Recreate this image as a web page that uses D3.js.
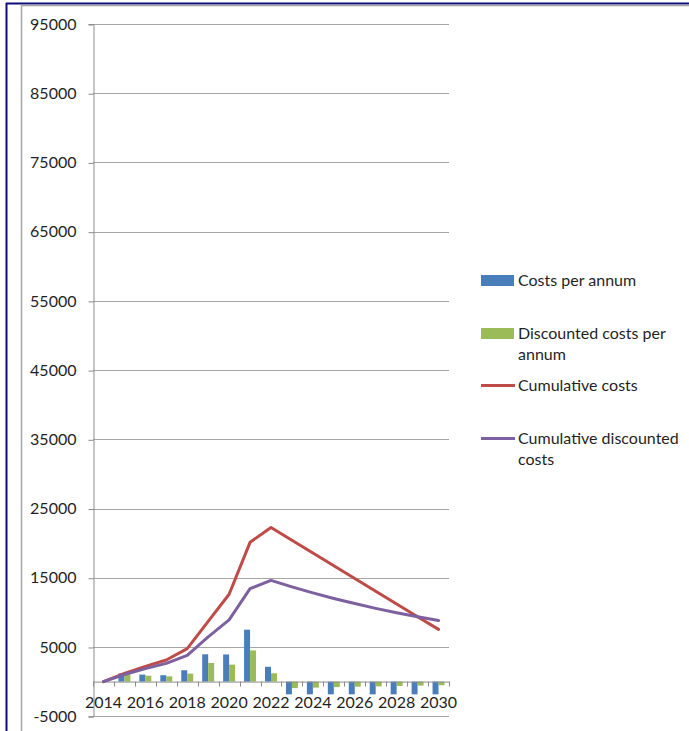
<!DOCTYPE html>
<html>
<head>
<meta charset="utf-8">
<script src="https://cdn.jsdelivr.net/npm/d3@7"></script>
<style>
  html, body { margin: 0; padding: 0; background: #fff; }
  svg { display: block; }
  text { font-family: Lato, "Open Sans", "Liberation Sans", sans-serif; fill: #1f1f1f; }
</style>
</head>
<body>
<svg id="chart" width="689" height="731"></svg>
<script>
// Years on the category axis
const years = [2014, 2015, 2016, 2017, 2018, 2019, 2020, 2021, 2022,
               2023, 2024, 2025, 2026, 2027, 2028, 2029, 2030];
// Year labels shown under the axis (every second year)
const yearLabels = [2014, 2016, 2018, 2020, 2022, 2024, 2026, 2028, 2030];
// Value axis ticks
const valueTicks = [-5000, 5000, 15000, 25000, 35000, 45000, 55000, 65000, 75000, 85000, 95000];

// Annual costs (bars)
const costsPerAnnum = [0, 1190, 1010, 920, 1640, 3940, 3920, 7500, 2140,
                       -1840, -1840, -1840, -1840, -1840, -1840, -1840, -1840];
const discountedCostsPerAnnum = [0, 1020, 850, 760, 1150, 2690, 2450, 4500, 1200,
                                 -940, -870, -800, -740, -690, -630, -580, -530];
// Running totals (lines)
const cumulativeCosts = [0, 1190, 2200, 3120, 4760, 8700, 12620, 20120, 22260,
                         20420, 18580, 16740, 14900, 13060, 11220, 9380, 7540];
const cumulativeDiscountedCosts = [0, 1020, 1870, 2630, 3780, 6470, 8920, 13420, 14620,
                                   13680, 12810, 12010, 11270, 10580, 9950, 9370, 8840];

const seriesNames = ["Costs per annum", "Discounted costs per annum",
                     "Cumulative costs", "Cumulative discounted costs"];
const colors = { blue: "#4A7EBB", green: "#9BBB59", red: "#BE4B48", purple: "#7D60A0" };
const FONT = "Lato, 'Open Sans', 'Liberation Sans', sans-serif";
const FONT_SIZE = 16;

const svg = d3.select("#chart");

// Outer frame
svg.append("rect").attr("width", 689).attr("height", 731).attr("fill", "#fff");
svg.append("line").attr("x1", 6).attr("x2", 689).attr("y1", 3.5).attr("y2", 3.5)
   .attr("stroke", "#0c0c7a").attr("stroke-width", 2);
svg.append("line").attr("x1", 6.5).attr("x2", 6.5).attr("y1", 3).attr("y2", 731)
   .attr("stroke", "#0c0c7a").attr("stroke-width", 2);
svg.append("line").attr("x1", 21).attr("x2", 689).attr("y1", 5.5).attr("y2", 5.5)
   .attr("stroke", "#a6a6a6").attr("stroke-width", 1.5);
svg.append("line").attr("x1", 21.5).attr("x2", 21.5).attr("y1", 5).attr("y2", 731)
   .attr("stroke", "#a6a6a6").attr("stroke-width", 1.5);

// Plot area
const plot = { left: 93, right: 449, top: 24, bottom: 716.2 };

const x = d3.scaleBand().domain(years).range([plot.left, plot.right]).padding(0);
const y = d3.scaleLinear().domain([-5000, 95000]).range([plot.bottom, plot.top]);

// Horizontal gridlines
svg.append("g").selectAll("line").data(valueTicks).join("line")
  .attr("x1", plot.left).attr("x2", plot.right)
  .attr("y1", d => Math.round(y(d)) + 0.5).attr("y2", d => Math.round(y(d)) + 0.5)
  .attr("stroke", "#a6a6a6").attr("stroke-width", 1);

// Value axis (plain hyphen for negatives)
const yAxis = d3.axisLeft(y).tickValues(valueTicks).tickSize(5).tickPadding(12)
  .tickFormat(d => String(d));
const yg = svg.append("g").attr("transform", `translate(${plot.left + 0.5},0)`).call(yAxis);
yg.select(".domain").attr("stroke", "#8c8c8c");
yg.selectAll(".tick line").attr("stroke", "#8c8c8c")
  .attr("transform", "translate(0,0.5)");
yg.selectAll(".tick text").attr("font-size", FONT_SIZE).attr("fill", "#1f1f1f")
  .attr("font-family", FONT);

// Bars
const barW = x.bandwidth() / 3.5;
const barsData = years.map((yr, i) => ({ yr, a: costsPerAnnum[i], b: discountedCostsPerAnnum[i] }));
const bars = svg.append("g");
bars.selectAll("rect.blue").data(barsData).join("rect").attr("class", "blue")
  .attr("x", d => x(d.yr) + x.bandwidth() / 2 - barW)
  .attr("width", barW)
  .attr("y", d => y(Math.max(0, d.a)))
  .attr("height", d => Math.abs(y(d.a) - y(0)))
  .attr("fill", colors.blue);
bars.selectAll("rect.green").data(barsData).join("rect").attr("class", "green")
  .attr("x", d => x(d.yr) + x.bandwidth() / 2)
  .attr("width", barW)
  .attr("y", d => y(Math.max(0, d.b)))
  .attr("height", d => Math.abs(y(d.b) - y(0)))
  .attr("fill", colors.green);

// Category axis at zero
const xAxis = d3.axisBottom(x).tickSize(0).tickPadding(15)
  .tickFormat(d => yearLabels.includes(d) ? d : "");
const xg = svg.append("g").attr("transform", `translate(0,${y(0)})`).call(xAxis);
xg.select(".domain").attr("stroke", "#8c8c8c");
xg.selectAll(".tick text").attr("font-size", FONT_SIZE).attr("fill", "#1f1f1f")
  .attr("font-family", FONT);
// Tick marks on the category boundaries
xg.selectAll("line.boundary").data(d3.range(years.length + 1)).join("line")
  .attr("class", "boundary")
  .attr("x1", i => Math.round(plot.left + i * x.step()) + 0.5)
  .attr("x2", i => Math.round(plot.left + i * x.step()) + 0.5)
  .attr("y1", 0).attr("y2", 5)
  .attr("stroke", "#8c8c8c");

// Lines
const line = d3.line().x((d, i) => x(years[i]) + x.bandwidth() / 2).y(d => y(d));
svg.append("path").datum(cumulativeCosts).attr("d", line)
  .attr("fill", "none").attr("stroke", colors.red).attr("stroke-width", 3)
  .attr("stroke-linejoin", "round").attr("stroke-linecap", "round");
svg.append("path").datum(cumulativeDiscountedCosts).attr("d", line)
  .attr("fill", "none").attr("stroke", colors.purple).attr("stroke-width", 3)
  .attr("stroke-linejoin", "round").attr("stroke-linecap", "round");

// Legend
const legend = svg.append("g").attr("font-size", FONT_SIZE).attr("font-family", FONT);
const legendItems = [
  { name: seriesNames[0], type: "rect", color: colors.blue, cy: 280.5, lines: ["Costs per annum"] },
  { name: seriesNames[1], type: "rect", color: colors.green, cy: 333.5, lines: ["Discounted costs per", "annum"] },
  { name: seriesNames[2], type: "line", color: colors.red, cy: 385.5, lines: ["Cumulative costs"] },
  { name: seriesNames[3], type: "line", color: colors.purple, cy: 438.5, lines: ["Cumulative discounted", "costs"] }
];
legendItems.forEach(it => {
  if (it.type === "rect") {
    legend.append("rect").attr("x", 481).attr("y", it.cy - 5.5).attr("width", 33).attr("height", 11)
      .attr("fill", it.color);
  } else {
    legend.append("line").attr("x1", 481).attr("x2", 515).attr("y1", it.cy).attr("y2", it.cy)
      .attr("stroke", it.color).attr("stroke-width", 3);
  }
  it.lines.forEach((t, j) => {
    legend.append("text").attr("x", 518).attr("y", it.cy + j * 21).attr("dy", "0.35em").text(t);
  });
});
</script>
</body>
</html>
